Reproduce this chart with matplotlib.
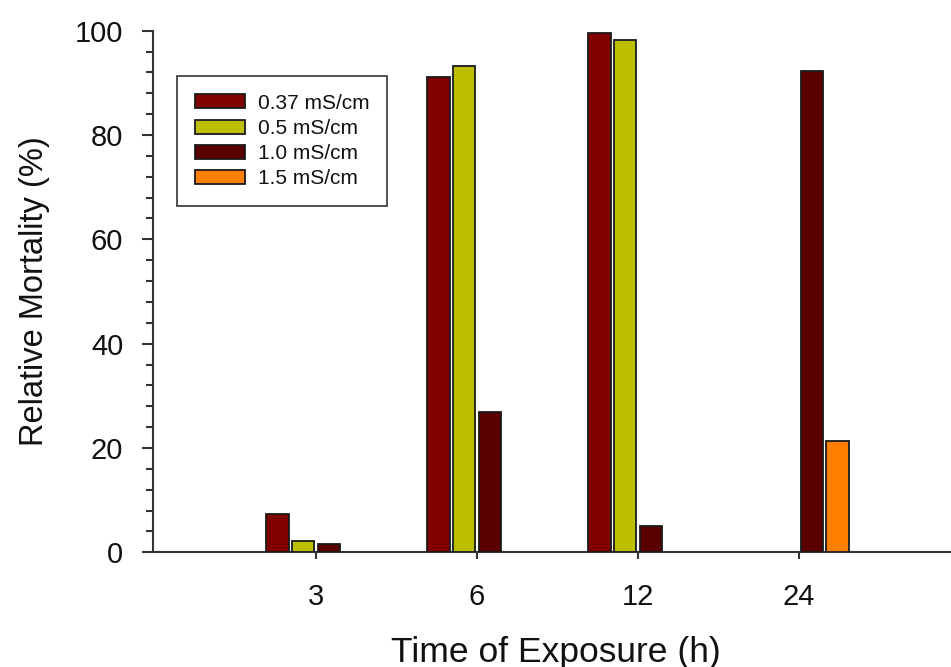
import numpy as np
import matplotlib
matplotlib.use("Agg")
import matplotlib.pyplot as plt
from matplotlib.ticker import MultipleLocator

plt.rcParams['font.family'] = ['Liberation Sans', 'DejaVu Sans']

categories = ["3", "6", "12", "24"]
series_labels = ["0.37 mS/cm", "0.5 mS/cm", "1.0 mS/cm", "1.5 mS/cm"]
s037 = [7.3, 91.1, 99.6, np.nan]
s05 = [2.1, 93.3, 98.3, np.nan]
s10 = [1.5, 26.9, 5.0, 92.3]
s15 = [np.nan, np.nan, np.nan, 21.4]
series = [s037, s05, s10, s15]
colors = ["#800000", "#BBBF00", "#5A0000", "#FF8000"]

W, H = 951, 667
fig = plt.figure(figsize=(W / 100, H / 100), dpi=100)
left_px, bottom_px, top_px = 152.5, 552.3, 30.7
unit_px = 161.0
xmin, xmax = -0.016, 5.0
width_px = (xmax - xmin) * unit_px
ax = fig.add_axes([left_px / W, 1 - bottom_px / H, width_px / W, (bottom_px - top_px) / H])

x = np.arange(1, len(categories) + 1)
offsets = [-0.239, -0.081, 0.081, 0.239]
bw = 0.14
for vals, off, c, lab in zip(series, offsets, colors, series_labels):
    v = np.array(vals, dtype=float)
    m = ~np.isnan(v)
    ax.bar(x[m] + off, v[m], width=bw, color=c, edgecolor="#1a1a1a", linewidth=1.3, label=lab, zorder=3)

ax.set_xlim(xmin, xmax)
ax.set_ylim(0, 100)
ax.set_xticks(x)
ax.set_xticklabels(categories)
ax.yaxis.set_major_locator(MultipleLocator(20))
ax.yaxis.set_minor_locator(MultipleLocator(4))

for s in ["top", "right"]:
    ax.spines[s].set_visible(False)
for s in ["left", "bottom"]:
    ax.spines[s].set_color("#333333")
    ax.spines[s].set_linewidth(1.5)

ax.tick_params(axis="y", which="major", direction="out", length=8, width=1.5, color="#333333",
               labelsize=21, pad=13, labelcolor="#111111")
ax.tick_params(axis="y", which="minor", direction="out", length=5, width=1.5, color="#333333")
ax.tick_params(axis="x", which="major", direction="out", length=5, width=1.5, color="#333333",
               labelsize=21, pad=17, labelcolor="#111111")
ax.tick_params(axis="x", which="minor", bottom=False)

ax.set_xlabel("Time of Exposure (h)", fontsize=25.5, color="#111111")
ax.set_ylabel("Relative Mortality (%)", fontsize=23.5, color="#111111")
ax.xaxis.set_label_coords(0.5, -0.16)
ax.yaxis.set_label_coords(-0.1275, 0.5)

leg = ax.legend(loc="upper left", bbox_to_anchor=(177 / W, 1 - 76 / H), bbox_transform=fig.transFigure,
                borderaxespad=0, fontsize=15, handlelength=2.4, handleheight=0.67,
                handletextpad=0.63, labelspacing=0.3, borderpad=0.85, fancybox=False,
                frameon=True, edgecolor="#333333", framealpha=1)
leg.get_frame().set_linewidth(1.2)
for t in leg.get_texts():
    t.set_color("#111111")

fig.savefig("out.png", dpi=100)
